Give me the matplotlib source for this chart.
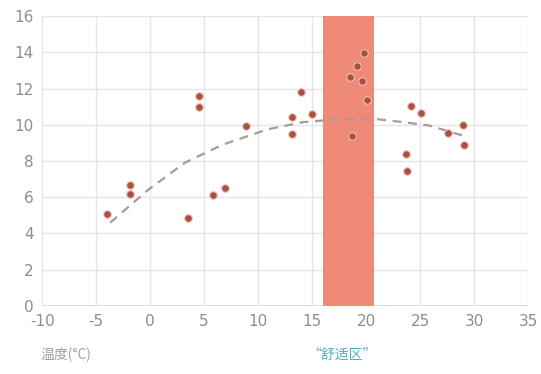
import numpy as np
import matplotlib.pyplot as plt

plt.rcParams['font.family'] = ['DejaVu Sans', 'Noto Sans CJK SC']
plt.rcParams['axes.unicode_minus'] = False

# 散点数据 (温度, 值)
temp = [-4.0, -1.85, -1.85, 3.5, 4.5, 4.5, 5.8, 6.9, 8.9, 13.1, 13.1, 14.0, 15.0,
        18.5, 19.2, 19.6, 19.8, 20.1, 18.7, 23.7, 23.8, 24.2, 25.1, 27.6, 29.0, 29.1]
value = [5.1, 6.65, 6.2, 4.85, 11.6, 11.0, 6.15, 6.5, 9.95, 10.45, 9.5, 11.8, 10.6,
         12.65, 13.25, 12.4, 13.95, 11.35, 9.4, 8.4, 7.45, 11.05, 10.65, 9.55, 10.0, 8.9]

# 趋势线
trend_x = [-3.7, -0.2, 3.2, 6.7, 10.9, 14.2, 17.3, 20.4, 23.4, 25.9, 28.4, 29.4]
trend_y = [4.6, 6.4, 7.9, 8.9, 9.75, 10.15, 10.3, 10.35, 10.15, 9.95, 9.5, 9.35]

comfort = (16.0, 20.7)
xticks = list(range(-10, 36, 5))
yticks = list(range(0, 17, 2))

fig = plt.figure(figsize=(5.41, 3.74), dpi=100)
ax = fig.add_axes([0.078, 0.182, 0.898, 0.775])

ax.axvspan(*comfort, color='#f08a78', zorder=1, lw=0)
ax.plot(trend_x, trend_y, ls=(0, (4, 3)), color='#a89a94', lw=1.6, zorder=3)
ax.scatter(temp, value, s=30, color='#a9503f', edgecolor='#ecc2b8', linewidth=0.8, zorder=4)

ax.set_xlim(-10, 35)
ax.set_ylim(0, 16)
ax.set_xticks(xticks)
ax.set_yticks(yticks)
ax.grid(True, color='#e4e4ea', lw=1.0, zorder=0)
ax.set_axisbelow(True)
for s in ax.spines.values():
    s.set_visible(False)
ax.axhline(0, color='#dcdce2', lw=1.4, zorder=0)
ax.tick_params(length=0, labelsize=11, labelcolor='#8e8e8e', pad=6)

fig.text(0.075, 0.04, '温度(°C)', color='#a0a0a0', fontsize=10,
         family=['Noto Sans CJK SC', 'DejaVu Sans'])
fig.text(0.632, 0.04, '“舒适区”', color='#4fb0bc', fontsize=10, ha='center',
         family=['Noto Sans CJK SC', 'DejaVu Sans'])

fig.savefig('out.png', dpi=100)
